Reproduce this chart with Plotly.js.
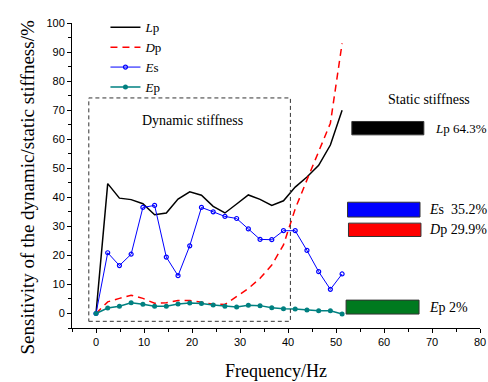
<!DOCTYPE html>
<html>
<head>
<meta charset="utf-8">
<script src="https://cdn.plot.ly/plotly-3.0.1.min.js"></script>
<style>html,body{margin:0;padding:0;background:#fff;}#chart{width:488px;height:382px;}</style>
</head>
<body>
<div id="chart"></div>
<script>
// Frequency (Hz)
var freq = [0, 2.44, 4.88, 7.32, 9.77, 12.21, 14.65, 17.09, 19.53, 21.97, 24.41, 26.86, 29.30, 31.74, 34.18, 36.62, 39.06, 41.50, 43.95, 46.39, 48.83, 51.27];
// Sensitivity series (%)
var Lp = [0, 44.7, 39.7, 39.2, 37.8, 34.0, 34.6, 39.4, 41.9, 40.7, 36.9, 34.6, 37.7, 40.8, 39.3, 37.2, 38.8, 43.5, 47.0, 51.0, 58.0, 70.0];
var Dp = [0, 4.0, 5.2, 6.3, 5.2, 3.5, 3.7, 4.5, 4.5, 3.8, 3.2, 3.1, 5.7, 8.6, 12.1, 16.7, 23.6, 36.0, 46.0, 56.0, 65.5, 93.0];
var Es = [0, 20.9, 16.5, 20.4, 36.5, 37.2, 19.4, 13.0, 23.3, 36.5, 35.0, 33.4, 32.7, 29.1, 25.5, 25.4, 28.5, 28.5, 21.7, 14.4, 8.3, 13.6];
var Ep = [0, 1.9, 2.5, 3.7, 3.2, 2.5, 2.5, 3.3, 3.6, 3.4, 2.9, 2.5, 2.2, 2.8, 2.7, 2.0, 1.6, 1.5, 1.2, 0.9, 0.9, -0.2];
// Static stiffness shares
var staticNames = ['<i>L</i>p 64.3%', '<i>E</i>s  35.2%', '<i>D</i>p 29.9%', '<i>E</i>p 2%'];
var staticColors = ['#000000', '#0000ff', '#ff0000', '#007a1f'];
var xTickVals = [0, 10, 20, 30, 40, 50, 60, 70, 80];
var yTickVals = [0, 10, 20, 30, 40, 50, 60, 70, 80, 90, 100];

var serif = 'Liberation Serif, Times New Roman, serif';
var sans = 'Liberation Sans, Arial, sans-serif';

var traces = [
  {x: freq, y: Lp, name: '<i>L</i>p', mode: 'lines', line: {color: '#000000', width: 1.5}},
  {x: freq, y: Dp, name: '<i>D</i>p', mode: 'lines', line: {color: '#ff0000', width: 1.5, dash: '7px,5px'}},
  {x: freq, y: Es, name: '<i>E</i>s', mode: 'lines+markers', line: {color: '#0000ff', width: 1},
   marker: {symbol: 'circle-open', size: 4, color: '#0000ff', line: {width: 1.2}}},
  {x: freq, y: Ep, name: '<i>E</i>p', mode: 'lines+markers', line: {color: '#008080', width: 1.5},
   marker: {symbol: 'circle', size: 5, color: '#008080'}}
];

// static stiffness boxes (positions only; labels from arrays)
var boxY = [[61.5, 66.1], [33.2, 38.3], [26.5, 31.1], [-0.2, 4.6]];
var boxX = [[53.3, 68.3], [52.4, 67.5], [52.6, 67.7], [52.1, 67.3]];
var labelX = [70.2, 69.0, 69.0, 69.0];
var labelSize = [13, 14, 14, 14];

var shapes = [
  {type: 'rect', xref: 'x', yref: 'y', x0: -1.5, x1: 40.5, y0: -2.7, y1: 74.2,
   line: {color: '#333333', width: 1, dash: '4px,3px'}}
];
var annotations = [
  {xref: 'x', yref: 'y', x: 20.2, y: 66.5, text: 'Dynamic stiffness', showarrow: false,
   font: {family: serif, size: 14, color: '#000'}},
  {xref: 'x', yref: 'y', x: 69.3, y: 73.5, text: 'Static stiffness', showarrow: false,
   font: {family: serif, size: 14, color: '#000'}},
  {xref: 'paper', yref: 'paper', x: -0.14, y: 0.462, text: 'Sensitivity of the dynamic/static stiffness/%',
   textangle: -90, showarrow: false, font: {family: serif, size: 19, color: '#000'}}
];
for (var i = 0; i < staticNames.length; i++) {
  shapes.push({type: 'rect', xref: 'x', yref: 'y', x0: boxX[i][0], x1: boxX[i][1], y0: boxY[i][0], y1: boxY[i][1],
    fillcolor: staticColors[i], line: {color: '#333333', width: 1}});
  annotations.push({xref: 'x', yref: 'y', x: labelX[i], y: (boxY[i][0] + boxY[i][1]) / 2, xanchor: 'left',
    text: staticNames[i], showarrow: false, font: {family: serif, size: labelSize[i], color: '#000'}});
}

var layout = {
  width: 488, height: 382,
  margin: {l: 72, r: 8, t: 23, b: 54},
  paper_bgcolor: '#fff', plot_bgcolor: '#fff',
  showlegend: true,
  legend: {x: 0.082, y: 1.035, xanchor: 'left', yanchor: 'top', bgcolor: 'rgba(0,0,0,0)',
    font: {family: serif, size: 13, color: '#000'}, tracegroupgap: 0, itemwidth: 30},
  xaxis: {range: [-5, 80], tickvals: xTickVals, ticks: 'outside', ticklen: 4, tickwidth: 1, tickcolor: '#000',
    showline: true, linecolor: '#000', linewidth: 1, showgrid: false, zeroline: false,
    minor: {dtick: 5, tick0: 0, ticks: 'outside', ticklen: 3, tickcolor: '#000', showgrid: false},
    tickfont: {family: sans, size: 11, color: '#000'},
    title: {text: 'Frequency/Hz', font: {family: serif, size: 18, color: '#000'}, standoff: 17}},
  yaxis: {range: [-5, 100], tickvals: yTickVals, ticks: 'outside', ticklen: 4, tickwidth: 1, tickcolor: '#000',
    showline: true, linecolor: '#000', linewidth: 1, showgrid: false, zeroline: false,
    minor: {dtick: 5, tick0: 0, ticks: 'outside', ticklen: 3, tickcolor: '#000', showgrid: false},
    tickfont: {family: sans, size: 11, color: '#000'}},
  shapes: shapes,
  annotations: annotations
};

Plotly.newPlot('chart', traces, layout, {displayModeBar: false, staticPlot: true});
</script>
</body>
</html>
